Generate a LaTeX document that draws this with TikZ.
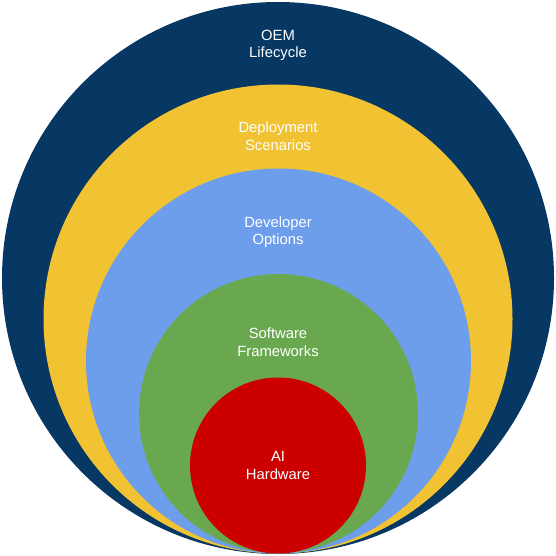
\documentclass[tikz,border=0pt]{standalone}
\usepackage{fontspec}
\setmainfont{Liberation Sans}
\definecolor{navy}{HTML}{073763}
\definecolor{gyellow}{HTML}{F1C232}
\definecolor{gblue}{HTML}{6D9EEB}
\definecolor{ggreen}{HTML}{6AA84F}
\definecolor{gred}{HTML}{CC0000}
\begin{document}
\begin{tikzpicture}[x=1pt,y=-1pt,
  lbl/.style={text=white,align=center,font=\fontsize{14.8}{17.5}\selectfont,inner sep=0pt,anchor=base}]
\useasboundingbox (0,0) rectangle (556,556);
\fill[navy]    (278,278) circle [radius=276pt];
\fill[gyellow] (278,319) circle [radius=234.5pt];
\fill[gblue]   (278.5,361) circle [radius=192.5pt];
\fill[ggreen]  (278.5,413.5) circle [radius=139.5pt];
\fill[gred]    (278,465.5) circle [radius=88pt];
\node[lbl] (oem) at (278,58) {OEM\\Lifecycle};
\node[lbl] (dep) at (278,150.5) {Deployment\\Scenarios};
\node[lbl] (dev) at (278,244.5) {Developer\\Options};
\node[lbl] (sw)  at (278,356) {Software\\Frameworks};
\node[lbl] (ai)  at (278,479) {AI\\Hardware};
\end{tikzpicture}
\end{document}
